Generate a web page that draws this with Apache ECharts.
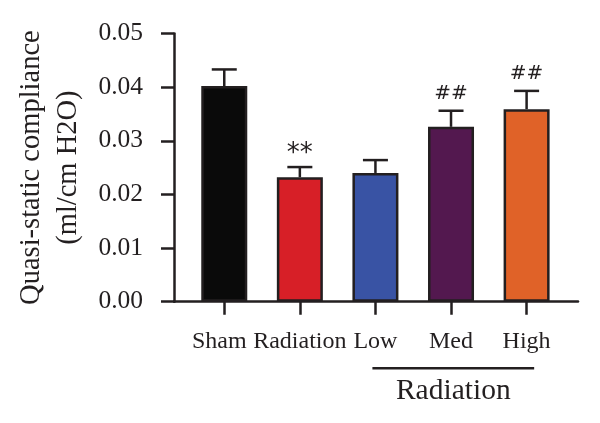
<!DOCTYPE html>
<html>
<head>
<meta charset="utf-8">
<script src="https://cdn.jsdelivr.net/npm/echarts@6/dist/echarts.min.js"></script>
<style>
  html, body { margin: 0; padding: 0; background: #fff; }
  #chart { width: 600px; height: 423px; }
</style>
</head>
<body>
<div id="chart"></div>
<script>
const categories = ['Sham', 'Radiation', 'Low', 'Med', 'High'];
const means = [0.0402, 0.0232, 0.0240, 0.0326, 0.0359];
const errors = [0.0031, 0.0019, 0.0024, 0.0030, 0.0034];
const marks = ['', '**', '', '##', '##'];
const barColors = ['#0a0a0a', '#d71f27', '#3953a4', '#53184f', '#e06228'];
// group bracket under Low..High
const groupLabel = 'Radiation';
const groupSpan = [1.96, 4.1];

const font = 'Liberation Serif';
const ink = '#231f20';

const chart = echarts.init(document.getElementById('chart'));

const positions = categories.map((_, i) => i);

chart.setOption({
  animation: false,
  grid: { left: 174, right: 22, top: 33.5, bottom: 121.3 },
  xAxis: {
    type: 'value',
    min: -0.665,
    max: 4.68,
    splitLine: { show: false },
    axisLine: { onZero: false, lineStyle: { color: ink, width: 2.5 } },
    axisTick: { customValues: positions, length: 13, lineStyle: { color: ink, width: 2.5 } },
    axisLabel: {
      customValues: positions,
      // first label sits a little left of its tick in the original
      formatter: v => {
        const i = Math.round(v);
        return i === 0 ? '{first|' + categories[i] + '}' : categories[i];
      },
      rich: { first: { padding: [0, 10, 0, 0], fontFamily: font, fontSize: 24, color: ink } },
      margin: 28,
      color: ink,
      fontFamily: font,
      fontSize: 24
    }
  },
  yAxis: {
    type: 'value',
    min: 0,
    max: 0.05,
    interval: 0.01,
    splitLine: { show: false },
    axisLine: { show: true, onZero: false, lineStyle: { color: ink, width: 2.5 } },
    axisTick: { show: true, length: 13, lineStyle: { color: ink, width: 2.5 } },
    axisLabel: {
      formatter: v => v.toFixed(2),
      margin: 31,
      color: ink,
      fontFamily: font,
      fontSize: 25.5
    },
    name: 'Quasi-static compliance\n(ml/cm H2O)',
    nameLocation: 'middle',
    nameRotate: 90,
    nameGap: 76,
    nameTextStyle: { color: ink, fontFamily: font, fontSize: 28.5, lineHeight: 37 }
  },
  series: [
    {
      type: 'bar',
      barWidth: 46,
      data: means.map((m, i) => ({
        value: [i, m],
        itemStyle: { color: barColors[i] }
      })),
      itemStyle: { borderColor: ink, borderWidth: 2.5 }
    },
    {
      type: 'custom',
      clip: false,
      data: means.map((m, i) => [i, m, errors[i]]),
      renderItem: (params, api) => {
        const i = api.value(0);
        const top = api.coord([i, api.value(1) + api.value(2)]);
        const base = api.coord([i, api.value(1)]);
        const half = 12.5;
        const children = [
          { type: 'line', shape: { x1: base[0], y1: base[1], x2: top[0], y2: top[1] },
            style: { stroke: ink, lineWidth: 2.5 } },
          { type: 'line', shape: { x1: top[0] - half, y1: top[1], x2: top[0] + half, y2: top[1] },
            style: { stroke: ink, lineWidth: 2.5 } }
        ];
        const mark = marks[params.dataIndex];
        if (mark) {
          const star = mark.indexOf('*') >= 0;
          children.push({
            type: 'text',
            style: {
              x: top[0], y: top[1] - (star ? 13 : 17), text: mark,
              align: 'center', verticalAlign: 'middle',
              fill: ink, font: (star ? '26px' : '20px') + ' "DejaVu Sans"'
            }
          });
        }
        return { type: 'group', children };
      },
      z: 3
    },
    {
      type: 'custom',
      clip: false,
      data: [[groupSpan[0], groupSpan[1]]],
      renderItem: (params, api) => {
        const a = api.coord([api.value(0), 0]);
        const b = api.coord([api.value(1), 0]);
        const y = a[1] + 66.6;
        return {
          type: 'group',
          children: [
            { type: 'line', shape: { x1: a[0], y1: y, x2: b[0], y2: y },
              style: { stroke: ink, lineWidth: 2.5 } },
            { type: 'text', style: {
                x: (a[0] + b[0]) / 2, y: y + 23, text: groupLabel,
                align: 'center', verticalAlign: 'middle',
                fill: ink, font: '29.5px "Liberation Serif"' } }
          ]
        };
      }
    }
  ]
});
</script>
</body>
</html>
